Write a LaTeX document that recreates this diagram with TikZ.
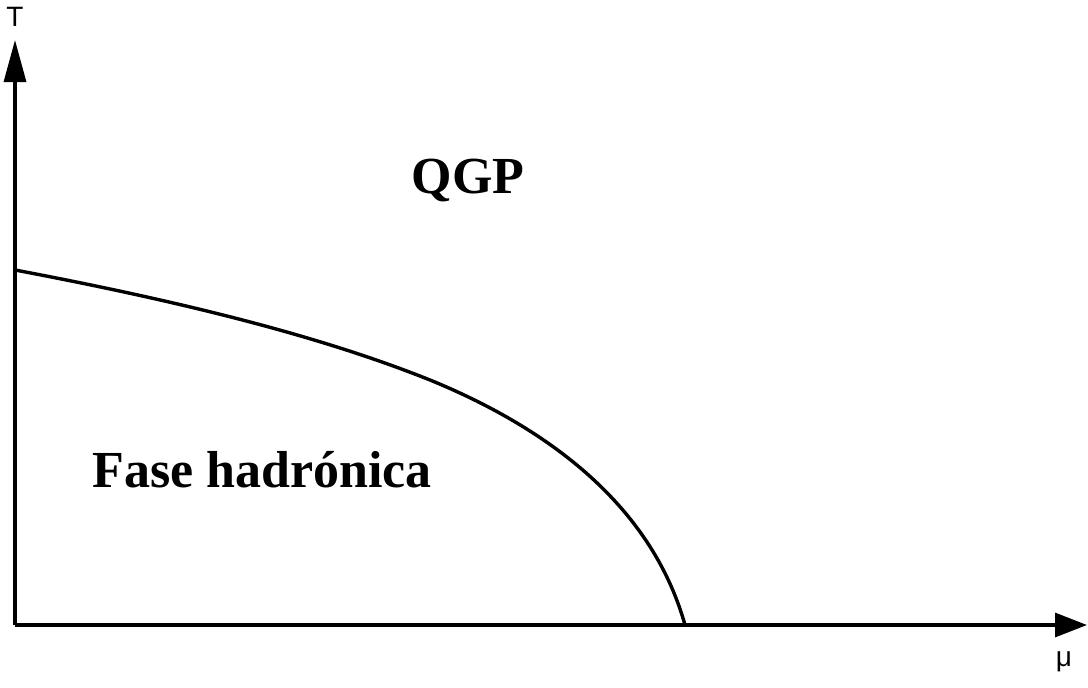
\documentclass[tikz,border=0pt]{standalone}
\usepackage{fontspec}
\setmainfont{Liberation Serif}
\newfontfamily\axisfont{Liberation Sans}
\usetikzlibrary{arrows.meta}
\begin{document}
\begin{tikzpicture}[x=1pt,y=-1pt,
  axis/.style={line width=3.2pt,-{Triangle[length=42pt,width=22pt]}},
  xaxis/.style={line width=3.2pt,-{Triangle[length=32pt,width=24pt]}},
  curvestyle/.style={line width=3.4pt},
  region/.style={font=\fontsize{52}{52}\selectfont\bfseries},
  axlabel/.style={font=\axisfont\fontsize{28}{28}\selectfont}]
\useasboundingbox (0,0) rectangle (1088,688);
\coordinate (O) at (15,625);
\coordinate (ytip) at (15,40);
\coordinate (xtip) at (1087,625);
\draw[axis] (O) -- (ytip);
\draw[xaxis] (O) -- (xtip);
\node[axlabel] (T) at (15,17) {T};
\node[axlabel] (mu) at (1064,662) {μ};
\coordinate (c0) at (15,270);
\coordinate (c1) at (685,625);
\draw[curvestyle] (c0) .. controls (200,305) and (330,340) .. (430,380)
  .. controls (540,425) and (650,500) .. (c1);
\node[region] (qgp) at (468,180) {QGP};
\node[region] (had) at (262,470) {Fase hadrónica};
\end{tikzpicture}
\end{document}
